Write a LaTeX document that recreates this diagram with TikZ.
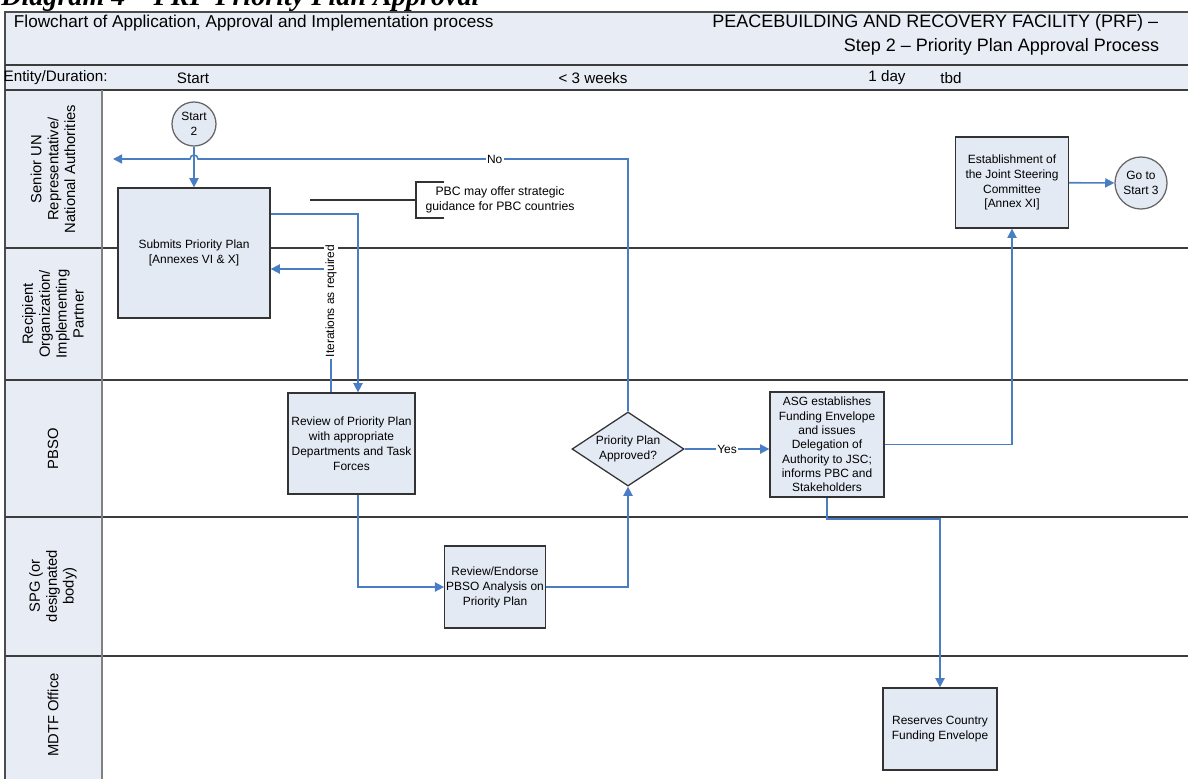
\documentclass[tikz,border=0pt]{standalone}
\usepackage{fontspec}
\setmainfont{Liberation Sans}
\newfontfamily\titlefont{Liberation Serif}
\usetikzlibrary{shapes.geometric,arrows.meta}
\definecolor{flowblue}{RGB}{74,126,196}
\definecolor{boxfill}{RGB}{228,234,244}
\definecolor{headfill}{RGB}{232,237,245}
\definecolor{lanegray}{RGB}{60,60,60}
\tikzset{
	box/.style={draw=black!80, fill=boxfill, line width=0.9pt, align=center, inner sep=1pt, font=\fontsize{8.5}{10.6}\selectfont},
	flow/.style={draw=flowblue, line width=1.1pt, -{Triangle[width=6.5pt,length=6.5pt]}},
	lane/.style={draw=lanegray, line width=1.3pt},
	lanelabel/.style={rotate=90, align=center, font=\fontsize{10.5}{12}\selectfont},
	tag/.style={fill=white, inner sep=1pt, font=\fontsize{8.5}{10}\selectfont},
	note/.style={draw=black!80, line width=0.8pt}
}
\begin{document}
\begin{tikzpicture}[x=0.025cm,y=-0.025cm]
	\useasboundingbox (0,0) rectangle (1188,778);
	\node[anchor=base west, inner sep=0pt, font=\titlefont\bfseries\itshape\fontsize{20}{22}\selectfont] (title) at (1,5) {Diagram 4 – PRF Priority Plan Approval};
	\fill[headfill] (5,12) rectangle (1188,90);
	\fill[headfill] (5,90) rectangle (102,790);
	\draw[black!70, line width=0.8pt] (5,790) -- (5,12) -- (1188,12);
	\draw[lane] (5,65) -- (1188,65);
	\draw[lane] (5,90) -- (1188,90);
	\foreach \y in {248,380,517,656}
		\draw[lane] (5,\y) -- (1188,\y);
	\draw[gray, line width=1.5pt] (102,90) -- (102,790);

	\node[anchor=west, font=\fontsize{12.2}{14}\selectfont] (flowtitle) at (9,23) {Flowchart of Application, Approval and Implementation process};
	\node[anchor=east, font=\fontsize{12.8}{14}\selectfont] (facility) at (1163,23) {PEACEBUILDING AND RECOVERY FACILITY (PRF) –};
	\node[anchor=east, font=\fontsize{12.8}{14}\selectfont] (step) at (1164,47) {Step 2 – Priority Plan Approval Process};
	\node[anchor=west, inner sep=1pt, font=\fontsize{10.8}{12}\selectfont] (entity) at (2,78) {Entity/Duration:};
	\node[font=\fontsize{10.8}{12}\selectfont] (durstart) at (193,78) {Start};
	\node[font=\fontsize{10.8}{12}\selectfont] (durweeks) at (593,78) {< 3 weeks};
	\node[font=\fontsize{10.8}{12}\selectfont] (durday) at (887,78) {1 day};
	\node[font=\fontsize{10.8}{12}\selectfont] (durtbd) at (951,78) {tbd};

	\node[lanelabel] (lane1) at (53,169) {Senior UN\\Representative/\\National Authorities};
	\node[lanelabel] (lane2) at (53,314) {Recipient\\Organization/\\Implementing\\Partner};
	\node[lanelabel] (lane3) at (53,449) {PBSO};
	\node[lanelabel] (lane4) at (53,586) {SPG (or\\designated\\body)};
	\node[lanelabel] (lane5) at (53,715) {MDTF Office};

	\node[box, circle, minimum size=1.1cm, inner sep=0pt, draw=black!60] (start) at (194,124) {Start\\2};
	\node[box, minimum width=3.8cm, minimum height=3.25cm] (submit) at (194,253) {Submits Priority Plan\\{[Annexes VI \& X]}};
	\node[box, minimum width=3.175cm, minimum height=2.525cm] (review) at (351.5,443.5) {Review of Priority Plan\\with appropriate\\Departments and Task\\Forces};
	\node[box, diamond, aspect=1.5, minimum width=2.8cm, minimum height=1.85cm, inner sep=0pt] (approved) at (628,449) {Priority Plan\\Approved?};
	\node[box, minimum width=2.85cm, minimum height=2.625cm, inner sep=0.5pt, font=\fontsize{8.5}{10.2}\selectfont] (asg) at (827,444.5) {ASG establishes\\Funding Envelope\\and issues\\Delegation of\\Authority to JSC;\\informs PBC and\\Stakeholders};
	\node[box, minimum width=2.5cm, minimum height=2.05cm] (endorse) at (495,587) {Review/Endorse\\PBSO Analysis on\\Priority Plan};
	\node[box, minimum width=2.825cm, minimum height=2.275cm] (jsc) at (1012,182.5) {Establishment of\\the Joint Steering\\Committee\\{[Annex XI]}};
	\node[box, circle, minimum size=1.3cm, inner sep=0pt, draw=black!60] (goto) at (1141,183) {Go to\\Start 3};
	\node[box, minimum width=2.85cm, minimum height=2.05cm] (reserve) at (940,729) {Reserves Country\\Funding Envelope};

	\node[align=center, font=\fontsize{8.7}{10.6}\selectfont] (pbcnote) at (500,200) {PBC may offer strategic\\guidance for PBC countries};
	\coordinate (pbcfrom) at (310,200);
	\draw[note] (pbcfrom) -- (416,200);
	\draw[note] (444,182) -- (416,182) -- (416,218) -- (444,218);

	\coordinate (noend) at (113,159);
	\draw[flow] (start) -- (submit);
	\draw[flow] (submit.east |- 0,214) -| (review.north -| 358,0);
	\draw[flow] (review.north -| 331,0) |- (submit.east |- 0,269) node[tag, rotate=90, pos=0.37] (iter) {Iterations as required};
	\draw[flow] (review.south -| 358,0) |- (endorse);
	\draw[flow] (endorse) -| (approved);
	\draw[flow] (approved.north) |- (198,159) node[tag, pos=0.655] (no) {No} arc (0:-180:4) -- (noend);
	\draw[flow] (approved) -- (asg.west |- approved) node[tag, midway] (yes) {Yes};
	\draw[flow] (asg) -| (jsc);
	\draw[flow] (jsc) -- (goto);
	\draw[flow] (asg.south) -- (asg.south |- 0,519) -| (reserve.north);
\end{tikzpicture}
\end{document}
